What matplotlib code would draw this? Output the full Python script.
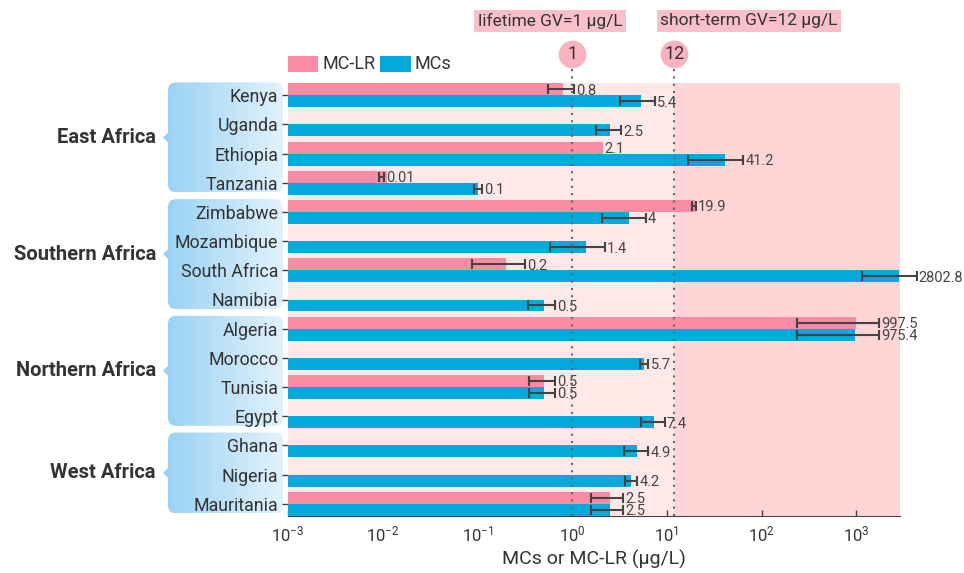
import matplotlib
matplotlib.use("Agg")
import matplotlib.pyplot as plt
import numpy as np
from matplotlib.patches import FancyBboxPatch, Rectangle, Polygon
from matplotlib.colors import LinearSegmentedColormap
from matplotlib.transforms import blended_transform_factory

plt.rcParams['font.family'] = ['Roboto', 'DejaVu Sans']

countries = ['Kenya', 'Uganda', 'Ethiopia', 'Tanzania',
             'Zimbabwe', 'Mozambique', 'South Africa', 'Namibia',
             'Algeria', 'Morocco', 'Tunisia', 'Egypt',
             'Ghana', 'Nigeria', 'Mauritania']
region_names = ['East Africa', 'Southern Africa', 'Northern Africa', 'West Africa']
region_sizes = [4, 4, 4, 3]

# MC-LR (None = no data)
mclr = [0.8, None, 2.1, 0.01, 19.9, None, 0.2, None, 997.5, None, 0.5, None, None, None, 2.5]
mclr_lo = [0.56, None, None, 0.0092, 18.5, None, 0.087, None, 237, None, 0.35, None, None, None, 1.58]
mclr_hi = [1.05, None, None, 0.0104, 20.2, None, 0.315, None, 1745, None, 0.66, None, None, None, 3.45]
# MCs
mcs = [5.4, 2.5, 41.2, 0.1, 4, 1.4, 2802.8, 0.5, 975.4, 5.7, 0.5, 7.4, 4.9, 4.2, 2.5]
mcs_lo = [3.2, 1.77, 16.9, 0.091, 2.05, 0.59, 1160, 0.34, 235, 5.2, 0.35, 5.35, 3.5, 3.6, 1.58]
mcs_hi = [7.5, 3.3, 64, 0.113, 6.0, 2.22, 4350, 0.66, 1730, 6.4, 0.66, 9.5, 6.4, 4.85, 3.45]

guidelines = [1, 12]

PINK = '#F98BA2'
BLUE = '#05A9DC'
TXT = '#333333'
W, H = 964, 573

fig = plt.figure(figsize=(W / 100, H / 100), dpi=100)
ov = fig.add_axes([0, 0, 1, 1], zorder=-1)
ax = fig.add_axes([288 / W, 57 / H, 612 / W, 433 / H])

ax.set_xscale('log')
ax.set_xlim(1e-3, 2900)
ax.set_ylim(14.42, -0.42)

# background zones
ax.axvspan(1e-3, 12, color='#FFE8E8', zorder=0, lw=0)
ax.axvspan(12, 2900, color='#FFD5D5', zorder=0, lw=0)

y = np.arange(len(countries))
bh = 0.41

def draw_series(vals, lo, hi, offset, color):
    for yi, v, l, h in zip(y, vals, lo, hi):
        if v is None:
            continue
        yy = yi + offset
        ax.barh(yy, v, height=bh, left=1e-3, color=color, zorder=2)
        end = v
        if l is not None:
            eb = ax.errorbar(v, yy, xerr=[[v - l], [h - v]], fmt='none', ecolor='#444444',
                             elinewidth=1.5, capsize=3.5, capthick=1.5, zorder=3)
            for art in eb.get_children():
                art.set_clip_on(False)
            end = h
        ax.annotate(f"{v:g}", (end, yy), xytext=(1.5, -1), textcoords='offset points',
                    va='center', ha='left', fontsize=10.5, color='#444444', zorder=4,
                    annotation_clip=False)

draw_series(mclr, mclr_lo, mclr_hi, -bh / 2, PINK)
draw_series(mcs, mcs_lo, mcs_hi, bh / 2, BLUE)

ax.set_yticks(y)
ax.set_yticklabels(countries, fontsize=12.8, color=TXT)
ax.tick_params(axis='y', length=4, width=1, color='#444444', pad=3)
ax.tick_params(axis='x', direction='in', length=4, width=1, color='#444444',
               labelsize=12, labelcolor=TXT, pad=6)
ax.minorticks_off()
for s in ['top', 'right', 'left']:
    ax.spines[s].set_visible(False)
ax.spines['bottom'].set_color('#444444')
ax.set_xlabel('MCs or MC-LR (μg/L)', fontsize=14, color=TXT, labelpad=4)

# guideline markers
blend = blended_transform_factory(ax.transData, ax.transAxes)
for g in guidelines:
    ax.plot([g, g], [0, 1.034], transform=blend, clip_on=False, color='#666666',
            lw=1.5, ls=(0, (1, 2.5)), zorder=5)
    ax.plot([g], [1.067], 'o', ms=20, color='#F9B3C0', mec='none',
            transform=blend, clip_on=False)
    ax.text(g, 1.067, str(g), transform=blend, ha='center', va='center',
            fontsize=13, color=TXT)

# overlay (pixel coords)
ov.set_xlim(0, W)
ov.set_ylim(H, 0)
ov.axis('off')

def to_px(yv):
    return H - ax.transData.transform((1, yv))[1]

cmap = LinearSegmentedColormap.from_list('g', ['#9AD2F4', '#E2F2FC'])
grad = np.linspace(0, 1, 256).reshape(1, -1)
start = 0
for name, n in zip(region_names, region_sizes):
    top = to_px(start - 0.44)
    bot = to_px(start + n - 1 + 0.33)
    x0, x1 = 168, 283
    patch = FancyBboxPatch((x0, top), x1 - x0, bot - top,
                           boxstyle='round,pad=0,rounding_size=8',
                           fc='none', ec='none')
    ov.add_patch(patch)
    im = ov.imshow(grad, extent=(x0, x1, bot, top), cmap=cmap, aspect='auto')
    im.set_clip_path(patch)
    mid = (top + bot) / 2
    ov.add_patch(Polygon([(x0 + 1, mid - 6), (x0 - 5, mid), (x0 + 1, mid + 6)],
                         closed=True, color='#9AD2F4', lw=0))
    ov.text(156, mid, name, ha='right', va='center', fontsize=14.5,
            fontweight='bold', color=TXT)
    start += n
ov.set_xlim(0, W)
ov.set_ylim(H, 0)

# legend
ov.add_patch(Rectangle((288, 56), 30, 16, color=PINK, lw=0))
ov.text(323, 64, 'MC-LR', va='center', ha='left', fontsize=13, color=TXT)
ov.add_patch(Rectangle((380, 56), 31, 16, color=BLUE, lw=0))
ov.text(415, 64, 'MCs', va='center', ha='left', fontsize=13, color=TXT)

# guideline captions
ov.text(550, 21, 'lifetime GV=1 μg/L', ha='center', va='center', fontsize=12.5,
        color=TXT, bbox=dict(boxstyle='square,pad=0.2', fc='#F9BFCB', ec='none'))
ov.text(749, 21, 'short-term GV=12 μg/L', ha='center', va='center', fontsize=12.5,
        color=TXT, bbox=dict(boxstyle='square,pad=0.2', fc='#F9BFCB', ec='none'))

fig.savefig('out.png', dpi=100, facecolor='white')
